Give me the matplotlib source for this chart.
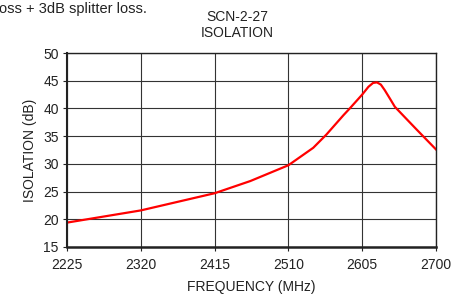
import matplotlib
matplotlib.use("Agg")
import matplotlib.pyplot as plt

plt.rcParams['font.family'] = ['Liberation Sans', 'DejaVu Sans']

# isolation curve
freq = [2225, 2320, 2415, 2461, 2510, 2542, 2559, 2581, 2589, 2605, 2613, 2619, 2624, 2629, 2634, 2641, 2647, 2662, 2675, 2700]
isol = [19.4, 21.6, 24.7, 26.9, 29.75, 32.9, 35.3, 38.8, 40.0, 42.5, 43.9, 44.6, 44.7, 44.3, 43.3, 41.7, 40.3, 38.1, 36.2, 32.6]
xticks = [2225, 2320, 2415, 2510, 2605, 2700]
yticks = [15, 20, 25, 30, 35, 40, 45, 50]

W, H = 466, 299
fig = plt.figure(figsize=(W / 100, H / 100), dpi=100)
ax = fig.add_axes([67 / W, 1 - 247 / H, (436 - 67) / W, (247 - 53) / H])

ax.plot(freq, isol, color='#ff0000', lw=1.6, solid_joinstyle='round')
ax.set_xlim(2225, 2700)
ax.set_ylim(15, 50)
ax.set_xticks(xticks)
ax.set_yticks(yticks)
ax.grid(True, color='#333333', lw=0.8)
ax.set_axisbelow(True)
for s in ax.spines.values():
    s.set_color('#222222')
    s.set_linewidth(1.0)
ax.spines['bottom'].set_linewidth(1.8)
ax.spines['left'].set_linewidth(1.5)
ax.tick_params(direction='out', length=3, width=0.8, labelsize=10, colors='#222222', pad=3)
ax.tick_params(axis='x', pad=5)

ax.set_xlabel('FREQUENCY (MHz)', fontsize=10, color='#222222', labelpad=6)
ax.set_ylabel('ISOLATION (dB)', fontsize=10, color='#222222', labelpad=4)

fig.text(237 / W, 1 - 17 / H, 'SCN-2-27', ha='center', va='center', fontsize=10, color='#222222')
fig.text(237 / W, 1 - 33 / H, 'ISOLATION', ha='center', va='center', fontsize=10, color='#222222')
fig.text(-1 / W, 1 - 9 / H, 'oss + 3dB splitter loss.', ha='left', va='center', fontsize=10.5, color='#222222')

fig.savefig('out.png', dpi=100)
